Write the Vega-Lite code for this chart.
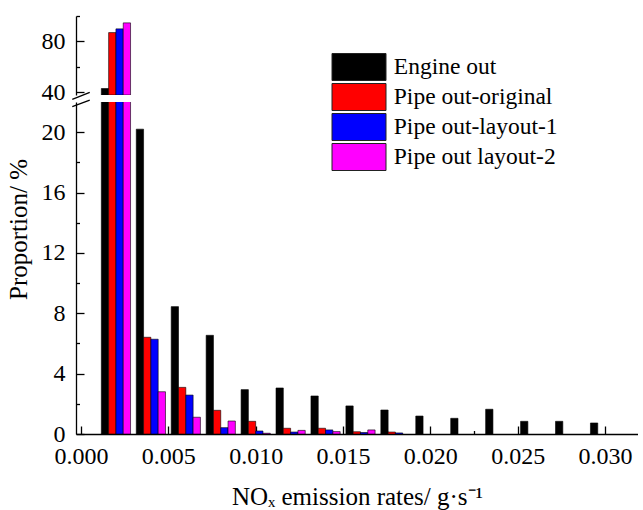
{
  "$schema": "https://vega.github.io/schema/vega-lite/v6.json",
  "background": "white",
  "padding": {"left": 6, "top": 15, "right": 0, "bottom": 0},
  "spacing": 7,
  "bounds": "flush",
  "datasets": {
    "bars": [
      {"rate": 0.002, "series": "Engine out", "value": 43.1},
      {"rate": 0.002, "series": "Pipe out-original", "value": 87.0},
      {"rate": 0.002, "series": "Pipe out-layout-1", "value": 89.9},
      {"rate": 0.002, "series": "Pipe out layout-2", "value": 94.6},
      {"rate": 0.004, "series": "Engine out", "value": 20.2},
      {"rate": 0.004, "series": "Pipe out-original", "value": 6.41},
      {"rate": 0.004, "series": "Pipe out-layout-1", "value": 6.28},
      {"rate": 0.004, "series": "Pipe out layout-2", "value": 2.8},
      {"rate": 0.006, "series": "Engine out", "value": 8.44},
      {"rate": 0.006, "series": "Pipe out-original", "value": 3.09},
      {"rate": 0.006, "series": "Pipe out-layout-1", "value": 2.58},
      {"rate": 0.006, "series": "Pipe out layout-2", "value": 1.11},
      {"rate": 0.008, "series": "Engine out", "value": 6.54},
      {"rate": 0.008, "series": "Pipe out-original", "value": 1.57},
      {"rate": 0.008, "series": "Pipe out-layout-1", "value": 0.42},
      {"rate": 0.008, "series": "Pipe out layout-2", "value": 0.86},
      {"rate": 0.010, "series": "Engine out", "value": 2.94},
      {"rate": 0.010, "series": "Pipe out-original", "value": 0.84},
      {"rate": 0.010, "series": "Pipe out-layout-1", "value": 0.2},
      {"rate": 0.010, "series": "Pipe out layout-2", "value": 0.05},
      {"rate": 0.012, "series": "Engine out", "value": 3.05},
      {"rate": 0.012, "series": "Pipe out-original", "value": 0.38},
      {"rate": 0.012, "series": "Pipe out-layout-1", "value": 0.13},
      {"rate": 0.012, "series": "Pipe out layout-2", "value": 0.24},
      {"rate": 0.014, "series": "Engine out", "value": 2.52},
      {"rate": 0.014, "series": "Pipe out-original", "value": 0.38},
      {"rate": 0.014, "series": "Pipe out-layout-1", "value": 0.27},
      {"rate": 0.014, "series": "Pipe out layout-2", "value": 0.16},
      {"rate": 0.016, "series": "Engine out", "value": 1.86},
      {"rate": 0.016, "series": "Pipe out-original", "value": 0.15},
      {"rate": 0.016, "series": "Pipe out-layout-1", "value": 0.1},
      {"rate": 0.016, "series": "Pipe out layout-2", "value": 0.27},
      {"rate": 0.018, "series": "Engine out", "value": 1.59},
      {"rate": 0.018, "series": "Pipe out-original", "value": 0.13},
      {"rate": 0.018, "series": "Pipe out-layout-1", "value": 0.07},
      {"rate": 0.020, "series": "Engine out", "value": 1.19},
      {"rate": 0.022, "series": "Engine out", "value": 1.04},
      {"rate": 0.024, "series": "Engine out", "value": 1.64},
      {"rate": 0.026, "series": "Engine out", "value": 0.84},
      {"rate": 0.028, "series": "Engine out", "value": 0.84},
      {"rate": 0.030, "series": "Engine out", "value": 0.73}
    ]
  },
  "config": {
    "view": {"stroke": null},
    "font": "Liberation Serif",
    "axis": {
      "labelFont": "Liberation Serif", "titleFont": "Liberation Serif",
      "labelFontSize": 24, "titleFontSize": 24, "titleFontWeight": "normal",
      "labelColor": "black", "titleColor": "black",
      "domainColor": "black", "tickColor": "black",
      "domainWidth": 1.3, "tickWidth": 1.3, "grid": false
    },
    "legend": {
      "orient": "none", "legendX": 269, "legendY": 37,
      "padding": 0, "title": null, "labelLimit": 0,
      "symbolType": "M-2,-1H2V1H-2Z", "symbolSize": 729,
      "symbolStrokeColor": "#222", "symbolStrokeWidth": 1, "symbolOpacity": 1,
      "labelFont": "Liberation Serif", "labelFontSize": 23.5, "labelColor": "black",
      "labelOffset": 20.8, "rowPadding": -2.7
    }
  },
  "resolve": {"scale": {"y": "independent", "x": "shared", "color": "shared"}},
  "vconcat": [
    {
      "width": 562, "height": 79,
      "data": {"name": "bars"},
      "encoding": {
        "x": {"field": "rate", "type": "quantitative", "scale": {"domain": [0, 0.0316], "nice": false, "zero": false}, "axis": null},
        "y": {"field": "value", "type": "quantitative", "stack": null, "scale": {"domain": [38, 100], "nice": false, "zero": false},
          "axis": {"values": [40, 60, 80, 100], "labelExpr": "datum.value == 40 || datum.value == 80 ? datum.label : ''",
            "tickSize": {"condition": {"test": "datum.value == 60 || datum.value == 100", "value": -3.5}, "value": -8},
            "labelPadding": 19, "title": null}},
        "color": {"field": "series", "type": "nominal",
          "scale": {"domain": ["Engine out", "Pipe out-original", "Pipe out-layout-1", "Pipe out layout-2"], "range": ["#000000", "#ff0000", "#0000ff", "#ff00ff"]}}
      },
      "layer": [
        {"transform": [{"filter": "datum.series == 'Engine out' && datum.value >= 38"}], "mark": {"type": "bar", "clip": true, "width": 7.3, "stroke": "black", "strokeWidth": 0.6, "xOffset": -10.95}},
        {"transform": [{"filter": "datum.series == 'Pipe out-original' && datum.value >= 38"}], "mark": {"type": "bar", "clip": true, "width": 7.3, "stroke": "black", "strokeWidth": 0.6, "xOffset": -3.65}},
        {"transform": [{"filter": "datum.series == 'Pipe out-layout-1' && datum.value >= 38"}], "mark": {"type": "bar", "clip": true, "width": 7.3, "stroke": "black", "strokeWidth": 0.6, "xOffset": 3.65}},
        {"transform": [{"filter": "datum.series == 'Pipe out layout-2' && datum.value >= 38"}], "mark": {"type": "bar", "clip": true, "width": 7.3, "stroke": "black", "strokeWidth": 0.6, "xOffset": 10.95}},
        {
          "transform": [{"filter": "datum.rate == 0.002 && datum.series == 'Engine out'"}],
          "mark": {"type": "rule", "clip": false, "strokeWidth": 1.3, "color": "black"},
          "encoding": {
            "x": {"datum": -0.0005},
            "x2": {"datum": 0.0005},
            "y": {"datum": 34.5},
            "y2": {"datum": 40},
            "color": {"value": "black"}
          }
        }
      ]
    },
    {
      "width": 562, "height": 332,
      "data": {"name": "bars"},
      "encoding": {
        "x": {"field": "rate", "type": "quantitative", "scale": {"domain": [0, 0.0316], "nice": false, "zero": false},
          "axis": {"values": [0, 0.0025, 0.005, 0.0075, 0.01, 0.0125, 0.015, 0.0175, 0.02, 0.0225, 0.025, 0.0275, 0.03],
            "labelExpr": "round(datum.value * 400) % 2 == 1 ? '' : format(datum.value, '.3f')",
            "tickSize": {"condition": {"test": "round(datum.value * 400) % 2 == 1", "value": -3.5}, "value": -8},
            "labelPadding": 18, "labelFlush": false, "labelOverlap": false,
            "title": "NOₓ emission rates/ g·s⁻¹", "titleFontSize": 25, "titlePadding": 12}},
        "y": {"field": "value", "type": "quantitative", "stack": null, "scale": {"domain": [0, 22], "nice": false, "zero": false},
          "axis": {"values": [0, 2, 4, 6, 8, 10, 12, 14, 16, 18, 20], "labelExpr": "datum.value % 4 == 0 ? datum.label : ''",
            "tickSize": {"condition": {"test": "datum.value % 4 != 0", "value": -3.5}, "value": -8},
            "labelPadding": 19, "title": "Proportion/ %", "titleFontSize": 25, "titleY": 127, "titlePadding": 10}},
        "color": {"field": "series", "type": "nominal",
          "scale": {"domain": ["Engine out", "Pipe out-original", "Pipe out-layout-1", "Pipe out layout-2"], "range": ["#000000", "#ff0000", "#0000ff", "#ff00ff"]}}
      },
      "layer": [
        {"transform": [{"filter": "datum.series == 'Engine out'"}], "mark": {"type": "bar", "clip": true, "width": 7.3, "stroke": "black", "strokeWidth": 0.6, "xOffset": -10.95}},
        {"transform": [{"filter": "datum.series == 'Pipe out-original'"}], "mark": {"type": "bar", "clip": true, "width": 7.3, "stroke": "black", "strokeWidth": 0.6, "xOffset": -3.65}},
        {"transform": [{"filter": "datum.series == 'Pipe out-layout-1'"}], "mark": {"type": "bar", "clip": true, "width": 7.3, "stroke": "black", "strokeWidth": 0.6, "xOffset": 3.65}},
        {"transform": [{"filter": "datum.series == 'Pipe out layout-2'"}], "mark": {"type": "bar", "clip": true, "width": 7.3, "stroke": "black", "strokeWidth": 0.6, "xOffset": 10.95}},
        {
          "transform": [{"filter": "datum.rate == 0.002 && datum.series == 'Engine out'"}],
          "mark": {"type": "rule", "clip": false, "strokeWidth": 1.3, "color": "black"},
          "encoding": {
            "x": {"datum": -0.0005},
            "x2": {"datum": 0.0005},
            "y": {"datum": 21.7},
            "y2": {"datum": 22.13},
            "color": {"value": "black"}
          }
        }
      ]
    }
  ]
}
